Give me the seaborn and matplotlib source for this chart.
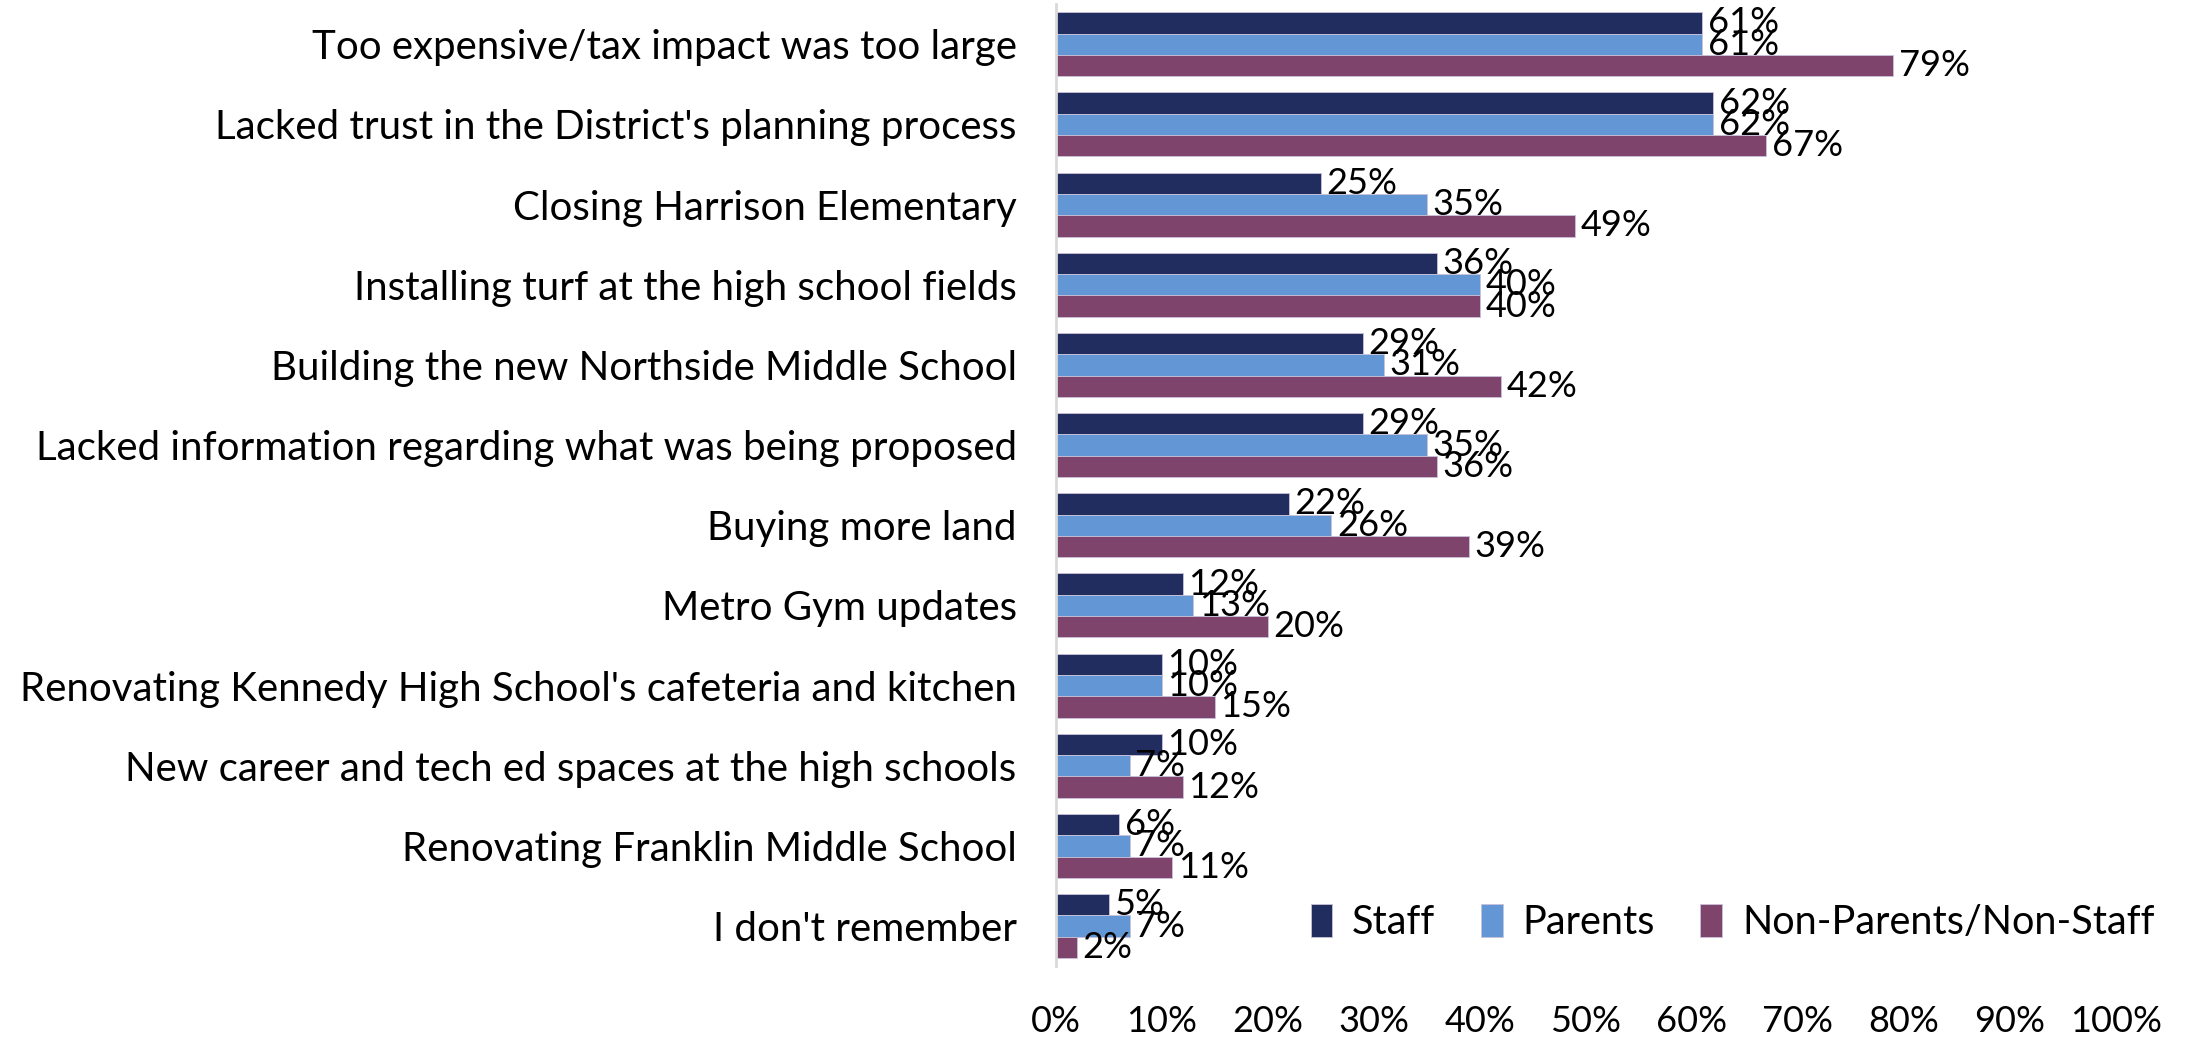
import pandas as pd
import matplotlib.pyplot as plt
import matplotlib.ticker as mticker
import seaborn as sns

sns.set_style("white")
plt.rcParams['font.family'] = ['Lato', 'DejaVu Sans']

# -------- Datos --------
razones = [
    "Too expensive/tax impact was too large",
    "Lacked trust in the District's planning process",
    "Closing Harrison Elementary",
    "Installing turf at the high school fields",
    "Building the new Northside Middle School",
    "Lacked information regarding what was being proposed",
    "Buying more land",
    "Metro Gym updates",
    "Renovating Kennedy High School's cafeteria and kitchen",
    "New career and tech ed spaces at the high schools",
    "Renovating Franklin Middle School",
    "I don't remember",
]
staff = [61, 62, 25, 36, 29, 29, 22, 12, 10, 10, 6, 5]
parents = [61, 62, 35, 40, 31, 35, 26, 13, 10, 7, 7, 7]
non_parents = [79, 67, 49, 40, 42, 36, 39, 20, 15, 12, 11, 2]

grupos = ["Staff", "Parents", "Non-Parents/Non-Staff"]
colores = ["#212C5F", "#6396D5", "#7E446C"]

df = pd.DataFrame({"razon": razones, "Staff": staff, "Parents": parents,
                   "Non-Parents/Non-Staff": non_parents})
df = df.melt(id_vars="razon", var_name="grupo", value_name="pct")
df["valor"] = df["pct"] / 100

# -------- Gráfico --------
fig = plt.figure(figsize=(21.9, 10.4), dpi=100)
ax = fig.add_axes([0.482, 0.071, 0.4842, 0.925])

sns.barplot(data=df, y="razon", x="valor", hue="grupo", hue_order=grupos,
            palette=colores, saturation=1, orient="h", width=0.8,
            edgecolor="#C9C2D9", linewidth=0.6, ax=ax)

for cont, g in zip(ax.containers, grupos):
    vals = df.loc[df["grupo"] == g, "pct"].tolist()
    ax.bar_label(cont, labels=[f"{v}%" for v in vals], padding=4,
                 fontsize=26, color="black")

ax.set_xlim(0, 1)
ax.set_xticks([i / 10 for i in range(11)])
ax.xaxis.set_major_formatter(mticker.PercentFormatter(1.0, decimals=0))
ax.set_xlabel("")
ax.set_ylabel("")
ax.tick_params(axis="x", length=0, pad=28, labelsize=26, labelcolor="black")
ax.tick_params(axis="y", length=0, pad=28, labelsize=29, labelcolor="black")

for lado in ["top", "right", "bottom"]:
    ax.spines[lado].set_visible(False)
ax.spines["left"].set_color("#D9D9D9")
ax.spines["left"].set_linewidth(2)

ax.legend(loc="center right", bbox_to_anchor=(1.0, 0.113),
          bbox_transform=fig.transFigure, ncol=3, frameon=False,
          fontsize=28.5, handlelength=0.55, handleheight=0.9,
          handletextpad=0.5, columnspacing=1.15, labelcolor="black")

plt.savefig("out.png", dpi=100)
